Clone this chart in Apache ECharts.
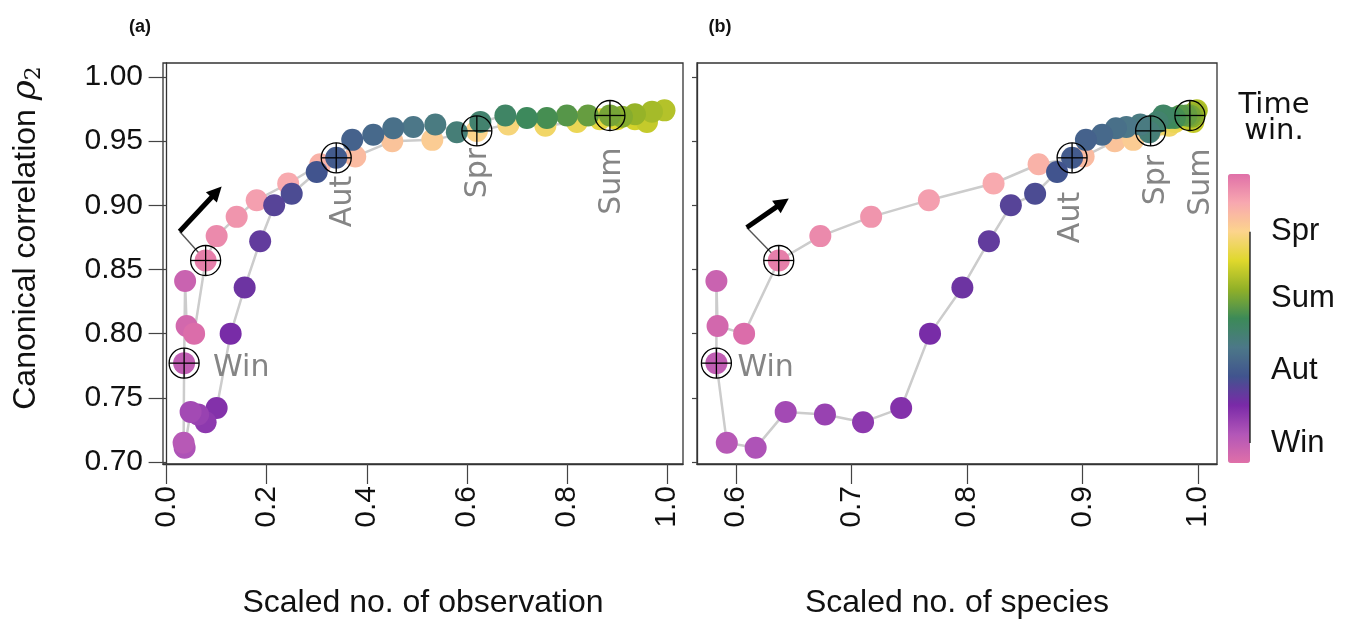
<!DOCTYPE html>
<html><head><meta charset="utf-8">
<script src="https://cdn.jsdelivr.net/npm/echarts@6/dist/echarts.min.js"></script>
<style>html,body{margin:0;padding:0;background:#fff}#c{width:1350px;height:619px}</style>
</head><body><div id="c"></div>
<script>
// ---- data, in time-window order (earliest window first) ----
const obsScaled = [0.078,0.100,0.140,0.180,0.243,0.307,0.377,0.451,0.531,0.620,
  0.683,0.757,0.820,0.866,0.900,0.936,0.960,0.995,0.970,0.936,0.910,
  0.886,0.842,0.800,0.760,0.720,0.677,0.627,0.580,0.537,0.493,0.453,0.413,0.371,
  0.339,0.300,0.250,0.215,0.187,0.156,0.128,0.100,0.078,0.063,0.048,0.036,0.034,
  0.035,0.037,0.040,0.055];
const spScaled = [0.637,0.673,0.717,0.767,0.823,0.862,0.901,0.928,0.944,0.959,
  0.968,0.975,0.980,0.985,0.990,0.993,0.996,0.999,0.998,0.997,0.995,
  0.993,0.990,0.985,0.980,0.975,0.970,0.965,0.958,0.950,0.938,0.929,0.917,0.903,
  0.891,0.878,0.859,0.838,0.819,0.796,0.768,0.743,0.710,0.677,0.643,0.617,0.592,
  0.583,0.583,0.584,0.607];
const rho = [0.857,0.876,0.891,0.904,0.917,0.932,0.938,0.950,0.951,0.958,
  0.963,0.962,0.965,0.967,0.967,0.967,0.965,0.974,0.973,0.971,0.969,
  0.970,0.970,0.970,0.968,0.968,0.970,0.965,0.957,0.963,0.961,0.960,0.955,0.951,
  0.937,0.926,0.909,0.900,0.872,0.836,0.800,0.742,0.731,0.737,0.739,0.711,0.715,
  0.777,0.841,0.806,0.800];
// marked windows
const startIdx = 0;
const seasonNames = ['Spr','Sum','Aut','Win'];
const seasonIdx = [9, 21, 34, 47];
// tick labels
const xTicksA = [0.0,0.2,0.4,0.6,0.8,1.0];
const xTicksB = [0.6,0.7,0.8,0.9,1.0];
const yTicks = [0.70,0.75,0.80,0.85,0.90,0.95,1.00];

// ---- styling ----
const FONT = '"Liberation Sans", Arial, Helvetica, sans-serif';
const GFONT = '"DejaVu Sans", sans-serif';
const colourStops = ['#e070a8','#b256b8','#7a2aa8','#41548e','#4c7888','#3c8a58',
  '#90b028','#dfd82c','#fcd48c','#f8a8b0','#e070a8'];
const labelOffsets = [
  {Win:{dx:29,dy:5,rot:false}, Aut:{dx:7,dy:18,rot:true}, Spr:{dx:1,dy:17,rot:true}, Sum:{dx:2,dy:32,rot:true}},
  {Win:{dx:21,dy:5,rot:false}, Aut:{dx:-1,dy:34,rot:true}, Spr:{dx:6,dy:24,rot:true}, Sum:{dx:11,dy:33,rot:true}}
];
const arrowOffsets = [{bx:-26,by:-29,tx:16,ty:-74},{bx:-32,by:-33,tx:10,ty:-62}];

const N = rho.length;
const cval = i => N - 1 - i; // position of window on colour bar (earliest at top)
const barMin = -0.6, barMax = N + 0.4; // colour-bar extent around the windows
const xs = [obsScaled, spScaled];

function scatterData(p){ return xs[p].map((x,i)=>[x, rho[i], cval(i)]); }
function lineData(p){ const d = xs[p].map((x,i)=>[x, rho[i]]); d.push([xs[p][0], rho[0]]); return d; }
function markerData(p){ return [startIdx].concat(seasonIdx).map(k=>[xs[p][k], rho[k]]); }
function labelData(p){ return seasonIdx.map((k,j)=>[xs[p][k], rho[k], j]); }

const axisLine = {show:true, lineStyle:{color:'#333', width:1.3}};
const tickStyle = {color:'#444', width:1.2};

const xAxes = [
  {gridIndex:0, type:'value', min:-0.0072, max:1.032, axisLine,
   axisTick:{show:true, customValues:xTicksA, length:20, lineStyle:tickStyle},
   axisLabel:{customValues:xTicksA, rotate:90, margin:22, fontSize:30, color:'#111', fontFamily:FONT, formatter:v=>v.toFixed(1)},
   splitLine:{show:false}, name:'Scaled no. of observation', nameLocation:'middle', nameGap:123,
   nameTextStyle:{fontSize:32, color:'#111', fontFamily:FONT}},
  {gridIndex:1, type:'value', min:0.5662, max:1.0165, axisLine,
   axisTick:{show:true, customValues:xTicksB, length:20, lineStyle:tickStyle},
   axisLabel:{customValues:xTicksB, rotate:90, margin:22, fontSize:30, color:'#111', fontFamily:FONT, formatter:v=>v.toFixed(1)},
   splitLine:{show:false}, name:'Scaled no. of species', nameLocation:'middle', nameGap:123,
   nameTextStyle:{fontSize:32, color:'#111', fontFamily:FONT}},
  {gridIndex:2, type:'value', min:0, max:1, show:false}
];
const yAxes = [
  {gridIndex:0, type:'value', min:0.6984, max:1.0109, axisLine,
   axisTick:{show:true, customValues:yTicks, length:18, lineStyle:tickStyle},
   axisLabel:{customValues:yTicks, margin:20, fontSize:30, color:'#111', fontFamily:FONT, formatter:v=>v.toFixed(2)},
   splitLine:{show:false}},
  {gridIndex:1, type:'value', min:0.6984, max:1.0109, axisLine,
   axisTick:{show:true, customValues:yTicks, length:5, lineStyle:tickStyle},
   axisLabel:{show:false}, splitLine:{show:false}},
  {gridIndex:2, type:'value', min:barMin, max:barMax, position:'right',
   axisLine:{show:false},
   axisTick:{show:true, customValues:seasonIdx.map(cval), length:21, lineStyle:{color:'#111', width:1.3}},
   axisLabel:{customValues:seasonIdx.map(cval), margin:21, fontSize:31, color:'#111', fontFamily:FONT,
     formatter:v=>seasonNames[seasonIdx.map(cval).indexOf(v)]},
   splitLine:{show:false}}
];

const series = [];
[0,1].forEach(p=>{
  series.push({type:'line', xAxisIndex:p, yAxisIndex:p, data:lineData(p), symbol:'none', silent:true,
    lineStyle:{color:'#cccccc', width:2.5}, z:1, animation:false});
});
[0,1].forEach(p=>{
  series.push({type:'custom', xAxisIndex:p, yAxisIndex:p, data:[[xs[p][startIdx], rho[startIdx]]], z:2, silent:true,
    renderItem:(params, api)=>{
      const c = api.coord([api.value(0), api.value(1)]);
      const o = arrowOffsets[p];
      const b = [c[0]+o.bx, c[1]+o.by], t = [c[0]+o.tx, c[1]+o.ty];
      const dx = t[0]-b[0], dy = t[1]-b[1], L = Math.hypot(dx,dy);
      const ux = dx/L, uy = dy/L, px = -uy, py = ux;
      const HL = 15, HW = 7.5;
      const e = [t[0]-ux*(HL-2), t[1]-uy*(HL-2)];
      return {type:'group', children:[
        {type:'line', shape:{x1:b[0], y1:b[1], x2:c[0], y2:c[1]}, style:{stroke:'#555', lineWidth:1.4}},
        {type:'line', shape:{x1:b[0], y1:b[1], x2:e[0], y2:e[1]}, style:{stroke:'#000', lineWidth:5}},
        {type:'polygon', shape:{points:[t, [t[0]-ux*HL+px*HW, t[1]-uy*HL+py*HW], [t[0]-ux*HL-px*HW, t[1]-uy*HL-py*HW]]},
          style:{fill:'#000'}}
      ]};
    }});
});
[0,1].forEach(p=>{
  series.push({type:'scatter', xAxisIndex:p, yAxisIndex:p, data:scatterData(p), symbolSize:22, z:3,
    itemStyle:{opacity:1}, animation:false});
});
[0,1].forEach(p=>{
  series.push({type:'custom', xAxisIndex:p, yAxisIndex:p, data:markerData(p), z:5, silent:true,
    renderItem:(params, api)=>{
      const c = api.coord([api.value(0), api.value(1)]);
      const r = 15, st = {stroke:'#000', lineWidth:1.3, fill:null};
      return {type:'group', children:[
        {type:'circle', shape:{cx:c[0], cy:c[1], r}, style:{stroke:'#000', lineWidth:1.3, fill:'none'}},
        {type:'line', shape:{x1:c[0]-r, y1:c[1], x2:c[0]+r, y2:c[1]}, style:st},
        {type:'line', shape:{x1:c[0], y1:c[1]-r, x2:c[0], y2:c[1]+r}, style:st}
      ]};
    }});
  series.push({type:'custom', xAxisIndex:p, yAxisIndex:p, data:labelData(p), z:5, silent:true,
    renderItem:(params, api)=>{
      const c = api.coord([api.value(0), api.value(1)]);
      const name = seasonNames[api.value(2)];
      const o = labelOffsets[p][name];
      return {type:'text', x:c[0]+o.dx, y:c[1]+o.dy, rotation:o.rot?Math.PI/2:0,
        style:{text:name, fill:'#858585', font:'30px ' + GFONT,
          align:o.rot?'right':'left', verticalAlign:'middle',
          textAlign:o.rot?'right':'left', textVerticalAlign:'middle'}};
    }});
});
// colour-bar bracket line from Win tick to Spr tick
series.push({type:'line', xAxisIndex:2, yAxisIndex:2, symbol:'none', silent:true,
  data:[[1, cval(seasonIdx[3])],[1, cval(seasonIdx[0])]], lineStyle:{color:'#111', width:1.3}, z:4});

const option = {
  backgroundColor:'#ffffff',
  animation:false,
  grid:[
    {left:163, top:63, width:520, height:401, show:true, borderColor:'#333', borderWidth:1.3, outerBoundsMode:'none', containLabel:false},
    {left:697, top:63, width:520, height:401, show:true, borderColor:'#333', borderWidth:1.3, outerBoundsMode:'none', containLabel:false},
    {left:1228, top:174, width:22, height:289, outerBoundsMode:'none', containLabel:false}
  ],
  xAxis:xAxes, yAxis:yAxes,
  visualMap:{type:'continuous', min:barMin, max:barMax, dimension:2, seriesIndex:[4,5],
    inRange:{color:colourStops}, left:1228, top:174, itemWidth:22, itemHeight:289,
    calculable:false, hoverLink:false, padding:0, orient:'vertical', text:['','']},
  graphic:[
    {type:'text', x:140, y:27, style:{text:'(a)', font:'bold 18px ' + FONT, fill:'#111', align:'center', verticalAlign:'middle', textAlign:'center', textVerticalAlign:'middle'}},
    {type:'text', x:720, y:27, style:{text:'(b)', font:'bold 18px ' + FONT, fill:'#111', align:'center', verticalAlign:'middle', textAlign:'center', textVerticalAlign:'middle'}},
    {type:'text', x:26, y:238, rotation:Math.PI/2,
      style:{text:'{t|Canonical correlation }{r|ρ}{s|2}', align:'center', verticalAlign:'middle', textAlign:'center', textVerticalAlign:'middle',
        rich:{t:{fontSize:32, fontFamily:FONT, fill:'#111'},
              r:{fontSize:34, fontFamily:'"DejaVu Serif", serif', fontStyle:'italic', fill:'#111'},
              s:{fontSize:22, fontFamily:'"DejaVu Serif", serif', fill:'#111', padding:[16,0,0,0]}}}},
    {type:'text', x:1274, y:92, style:{text:'Time\nwin.', font:'29px ' + GFONT, lineHeight:26, fill:'#111', align:'center', verticalAlign:'top', textAlign:'center', textVerticalAlign:'top'}}
  ],
  series
};
const chart = echarts.init(document.getElementById('c'));
chart.setOption(option);
</script></body></html>
